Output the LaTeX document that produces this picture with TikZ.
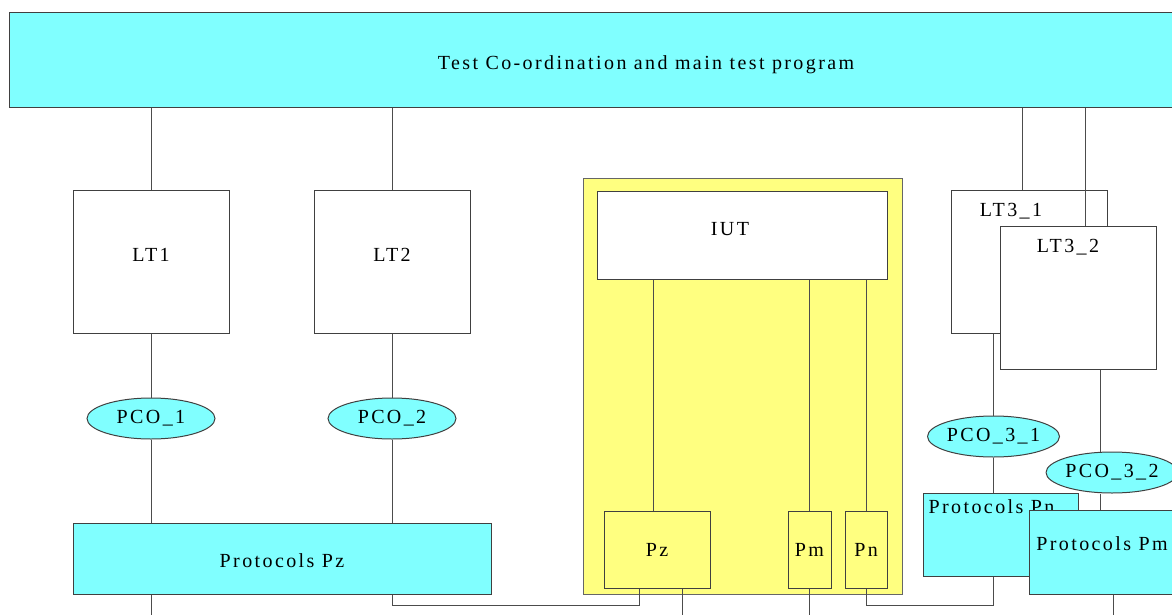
\documentclass[tikz,border=0pt]{standalone}
\usepackage{fontspec}
\setmainfont{Liberation Serif}[LetterSpace=12]
\usetikzlibrary{shapes.geometric}
\definecolor{lcyan}{HTML}{80FFFF}
\definecolor{lyellow}{HTML}{FFFF80}
\begin{document}
\fontsize{20}{23}\selectfont
\begin{tikzpicture}[x=1pt,y=-1pt,
  box/.style={draw=black!75, line width=1pt, fill=white, inner sep=0pt},
  cyanbox/.style={box, fill=lcyan},
  ltbox/.style={box, minimum width=156pt, minimum height=143pt},
  pco/.style={ellipse, draw=black!75, line width=1pt, fill=lcyan, minimum width=128pt, minimum height=41pt, inner sep=0pt},
  link/.style={draw=black!70, line width=1pt}]
\useasboundingbox (0,0) rectangle (1172,615);
\clip (0,0) rectangle (1172,615);

\node[cyanbox, minimum width=1273pt, minimum height=95pt, text height=19pt, text depth=0pt] (tcp) at (646,60) {Test Co-ordination and main test program};

\node[ltbox, label={[yshift=7pt]center:LT1}] (lt1) at (151,261.5) {};
\node[ltbox, label={[yshift=7pt]center:LT2}] (lt2) at (392,261.5) {};
\node[pco] (pco1) at (151,418.5) {PCO\_1};
\node[pco] (pco2) at (392,418.5) {PCO\_2};
\node[cyanbox, minimum width=418pt, minimum height=71pt, text height=18pt, text depth=0pt] (pz) at (282,558.5) {Protocols Pz};

% SUT
\node[box, fill=lyellow, draw=black!60, minimum width=319pt, minimum height=416pt] (sut) at (742.5,386) {};
\node[box, minimum width=290pt, minimum height=88pt, label={[xshift=-12pt,yshift=6pt]center:IUT}] (iut) at (742,235) {};
\node[box, fill=lyellow, minimum width=106pt, minimum height=77pt] (pzin) at (657,549.5) {Pz};
\node[box, fill=lyellow, minimum width=43pt, minimum height=77pt] (pm) at (809.5,549.5) {Pm};
\node[box, fill=lyellow, minimum width=42pt, minimum height=77pt] (pn) at (866,549.5) {Pn};

\coordinate (bot) at (0,625);
\coordinate (c31) at (1022,0);
\coordinate (c32) at (1085,0);
\coordinate (c2) at (1100,0);
\coordinate (j1) at (639,605);
\coordinate (j2) at (993,605);

\node[ltbox, label={[xshift=-18pt,yshift=50.5pt]center:LT3\_1}] (lt31) at (1029,261.5) {};
\path[link] (c31 |- tcp.south) -- (c31 |- lt31.north);
\path[link] (c32 |- tcp.south) -- (c32 |- lt31.north) -- (c32 |- 0,226);
\node[ltbox, label={[xshift=-10pt,yshift=50.5pt]center:LT3\_2}] (lt32) at (1078,297.5) {};
\node[pco] (pco31) at (993.5,436.5) {PCO\_3\_1};
\node[pco] (pco32) at (1112,472.5) {PCO\_3\_2};
\node[cyanbox, minimum width=155pt, minimum height=83pt, label={[xshift=-9pt,yshift=27.5pt]center:Protocols Pn}] (protpn) at (1000.5,534.5) {};
\node[cyanbox, minimum width=146pt, minimum height=84pt, label={[yshift=8pt]center:Protocols Pm}] (protpm) at (1102,552) {};

\path[link] (lt1 |- tcp.south) -- (lt1.north);
\path[link] (lt2 |- tcp.south) -- (lt2.north);
\path[link] (lt1.south) -- (pco1.north);
\path[link] (lt2.south) -- (pco2.north);
\path[link] (pco1.south) -- (pco1 |- pz.north);
\path[link] (pco2.south) -- (pco2 |- pz.north);
\path[link] (pco1 |- pz.south) -- (pco1 |- bot);
\path[link] (pco2 |- pz.south) |- (j1) -- (j1 |- pzin.south);

\path[link] ([xshift=-4pt]pzin.north |- iut.south) -- ([xshift=-4pt]pzin.north);
\path[link] (pm |- iut.south) -- (pm.north);
\path[link] (pn |- iut.south) -- (pn.north);
\path[link] ([xshift=25pt]pzin.south) -- ([xshift=25pt]pzin.south |- bot);
\path[link] (pm.south) -- (pm |- bot);
\path[link] (pn.south) |- (j2) -- (j2 |- protpn.south);

\path[link] (j2 |- lt31.south) -- (j2 |- pco31.north);
\path[link] (j2 |- pco31.south) -- (j2 |- protpn.north);
\path[link] (c2 |- lt32.south) -- (c2 |- pco32.north);
\path[link] (c2 |- pco32.south) -- (c2 |- protpm.north);
\path[link] ([xshift=11pt]protpm.south) -- ([xshift=11pt]protpm.south |- bot);
\end{tikzpicture}
\end{document}
